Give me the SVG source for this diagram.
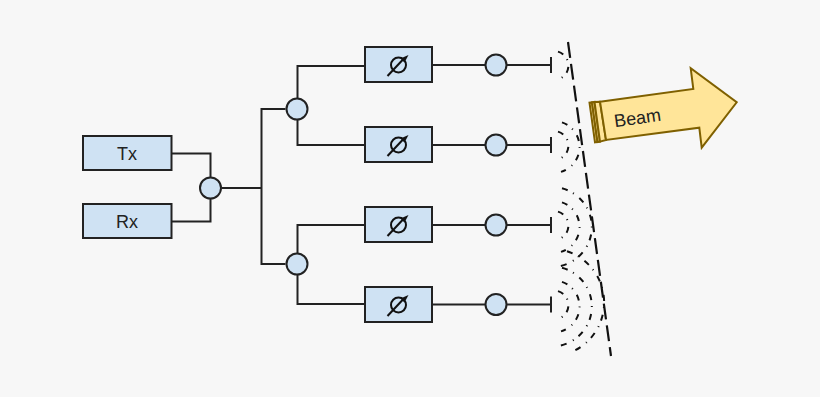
<svg xmlns="http://www.w3.org/2000/svg" xmlns:xlink="http://www.w3.org/1999/xlink" width="820" height="397" viewBox="0 0 820 397">
<style>
.box{fill:#cfe2f3;stroke:#222;stroke-width:2}
.wire{fill:none;stroke:#222;stroke-width:2}
.lbl{font-family:"Liberation Sans",Arial,sans-serif;font-size:18px;fill:#222;text-anchor:middle}
.wave{fill:none;stroke:#111;stroke-width:2;stroke-dasharray:6 6 1 7}
.beam{fill:#ffe599;stroke:#7f6000;stroke-width:2;stroke-linejoin:miter}
</style>
<defs>
<g id="shifter">
<rect class="box" x="365" y="47" width="67" height="35"/>
<circle cx="398.5" cy="65" r="7.5" fill="none" stroke="#111" stroke-width="2"/>
<path d="M387.5 76L403 59.500" fill="none" stroke="#111" stroke-width="2"/>
<path d="M408.500 55L400.500 58.500L404.500 62.500Z" fill="#111"/>
</g>
<g id="element">
<circle class="box" cx="496" cy="65" r="10.500"/>
<path class="wire" d="M506.500 65H551M551 57V73"/>
</g>
<!-- Wavefront arcs, drawn relative to the radiating element's axis -->
<path id="arc1" class="wave" d="M558 -13.400A14.500 14.500 0 0 1 559 14.100"/>
<path id="arc2" class="wave" d="M562 -22.600A26 26 0 0 1 561 26.900"/>
<path id="arc3" class="wave" d="M562 -36.700A40 40 0 0 1 558 41.500"/>
<path id="arc4" class="wave" d="M567 -53.300A54 54 0 0 1 570 48.200"/>
</defs>
<rect width="820" height="397" fill="#f7f7f7"/>

<g id="connectors">
<path class="wire" d="M171.500 153.500H210.500V178M171.500 221.500H210.500V199"/>
<path class="wire" d="M221.500 188H261.500M285.500 109H261.500V264H285.500"/>
<path class="wire" d="M365 66H297.500V98M297.500 120V145H365"/>
<path class="wire" d="M365 225H297.500V253M297.500 275V304H365"/>
<path class="wire" d="M432 65H485.500M432 145H485.500M432 225H485.500M432 304.500H485.500"/>
</g>

<g id="tx"><rect class="box" x="83" y="136" width="88.500" height="34"/><text class="lbl" x="127" y="160">Tx</text></g>
<g id="rx"><rect class="box" x="83" y="204" width="88.500" height="34"/><text class="lbl" x="127" y="228">Rx</text></g>
<g id="splitter-main"><circle class="box" cx="210.500" cy="188" r="10.500"/></g>
<g id="splitter-upper"><circle class="box" cx="297" cy="109" r="10.500"/></g>
<g id="splitter-lower"><circle class="box" cx="297" cy="264" r="10.500"/></g>

<g id="shifter-1"><use xlink:href="#shifter" href="#shifter"/></g>
<g id="shifter-2"><use xlink:href="#shifter" href="#shifter" y="80"/></g>
<g id="shifter-3"><use xlink:href="#shifter" href="#shifter" y="160"/></g>
<g id="shifter-4"><use xlink:href="#shifter" href="#shifter" y="240"/></g>

<g id="element-1"><use xlink:href="#element" href="#element"/></g>
<g id="element-2"><use xlink:href="#element" href="#element" y="80"/></g>
<g id="element-3"><use xlink:href="#element" href="#element" y="160"/></g>
<g id="element-4"><use xlink:href="#element" href="#element" y="239.500"/></g>

<g id="wavefronts">
<use href="#arc1" y="65"/>
<use href="#arc1" y="145"/>
<use href="#arc2" y="145"/>
<use href="#arc1" y="225"/>
<use href="#arc2" y="225"/>
<use href="#arc3" y="225"/>
<use href="#arc1" y="304.500"/>
<use href="#arc2" y="304.500"/>
<use href="#arc3" y="304.500"/>
<use href="#arc4" y="304.500"/>
</g>

<path id="aperture" d="M568 42L611 356" fill="none" stroke="#111" stroke-width="2.200" stroke-dasharray="16 6"/>

<g id="beam">
<path class="beam" d="M589.500 102.700L595 142.300L597.500 142L592 102.400Z"/>
<path class="beam" d="M592 102.400L597.500 142L600 141.600L594.500 102Z"/>
<path class="beam" d="M594.500 102L600 141.600L606 140L600 101.700Z"/>
<path class="beam" d="M600 101.700L693.300 89L690.700 68.300L736.700 102.300L701.700 147.700L699.300 127.700L606 140Z"/>
<text class="lbl" x="637.500" y="124" transform="rotate(-8 637.500 118)">Beam</text>
</g>
</svg>
